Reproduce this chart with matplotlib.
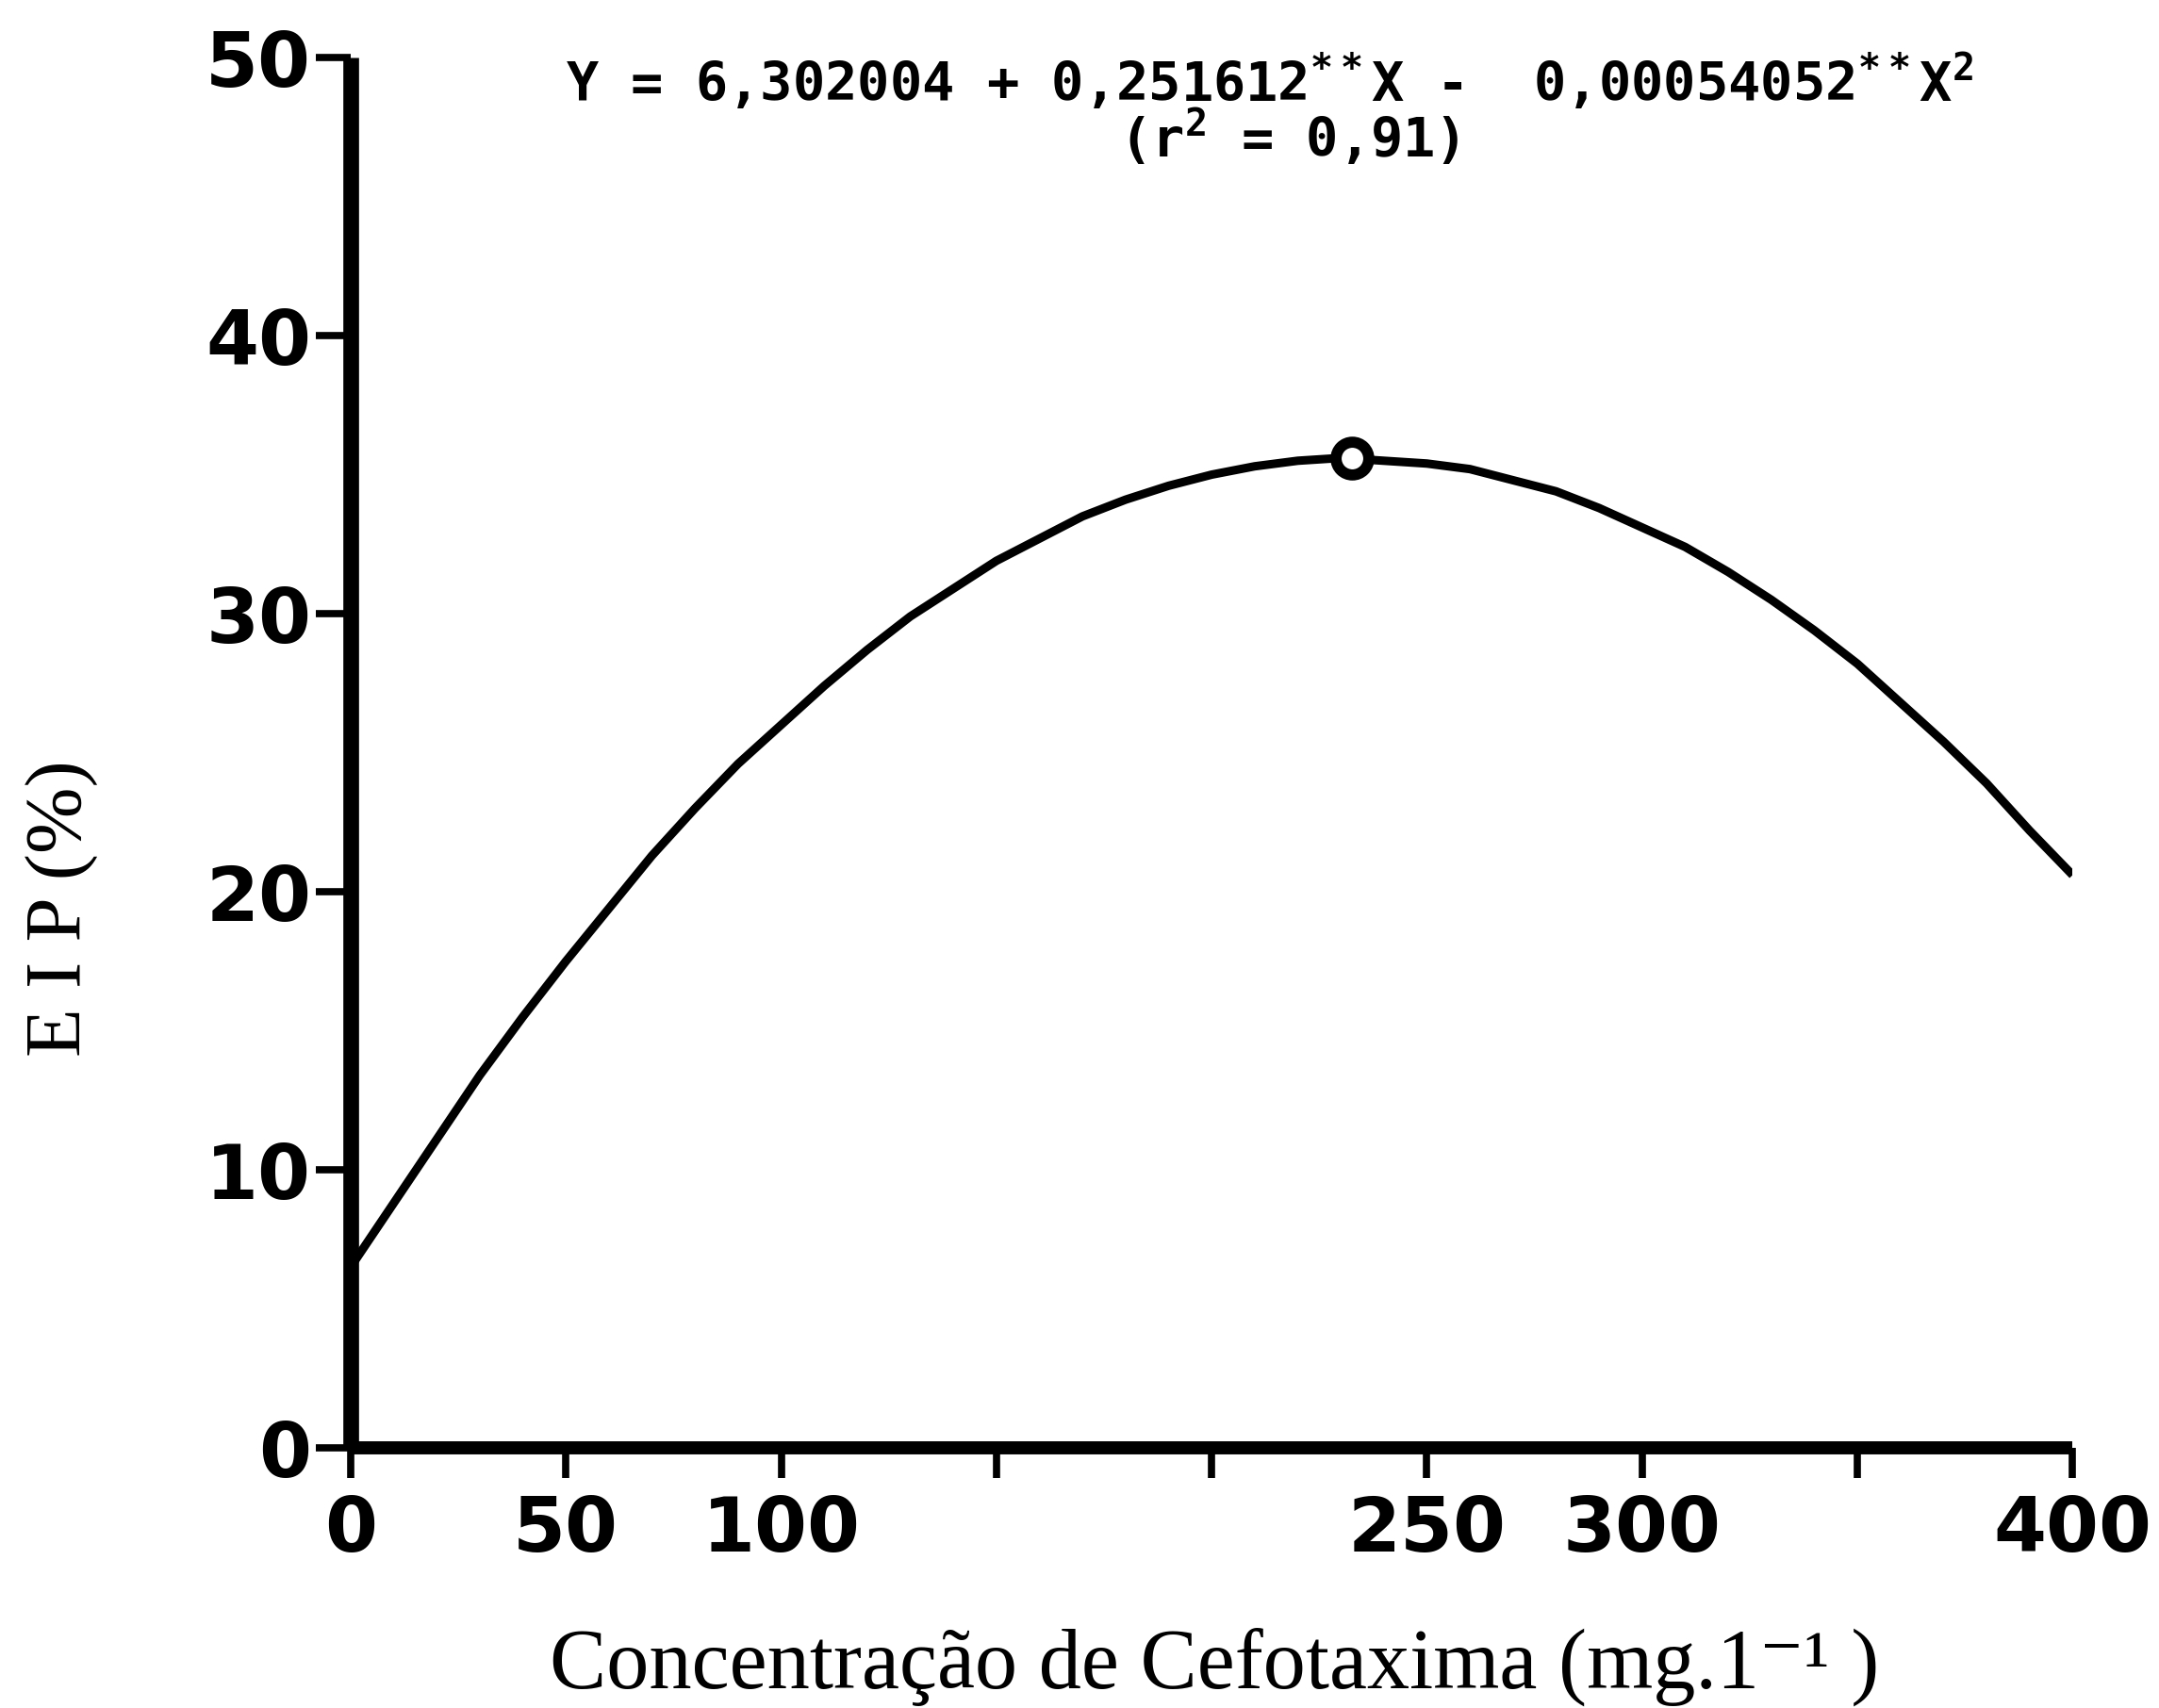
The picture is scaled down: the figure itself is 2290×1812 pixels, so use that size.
import matplotlib
matplotlib.use("Agg")
import matplotlib.pyplot as plt

# ---- data ----
conc = [0, 10, 20, 30, 40, 50, 60, 70, 80, 90, 100, 110, 120, 130, 140, 150, 160, 170, 180, 190, 200,
        210, 220, 230, 240, 250, 260, 270, 280, 290, 300, 310, 320, 330, 340, 350, 360, 370, 380, 390, 400]
eip = [6.5, 8.8, 11.1, 13.4, 15.5, 17.5, 19.4, 21.3, 23.0, 24.6, 26.0, 27.4, 28.7, 29.9, 30.9, 31.9, 32.7, 33.5, 34.1, 34.6, 35.0,
       35.3, 35.5, 35.6, 35.5, 35.4, 35.2, 34.8, 34.4, 33.8, 33.1, 32.4, 31.5, 30.5, 29.4, 28.2, 26.8, 25.4, 23.9, 22.2, 20.6]
peak_x = [232.7]
peak_y = [35.6]
xticks = [0, 50, 100, 150, 200, 250, 300, 350, 400]
xticklabels = ["0", "50", "100", "", "", "250", "300", "", "400"]
yticks = [0, 10, 20, 30, 40, 50]
yticklabels = ["0", "10", "20", "30", "40", "50"]
eq_line1 = "Y = 6,302004 + 0,251612$^{**}$X -  0,00054052$^{**}$X$^{2}$"
eq_line2 = "(r$^{2}$ = 0,91)"
xlabel = "Concentração de Cefotaxima (mg.1\u207b\u00b9 )"
ylabel = "E I P (%)"

plt.rcParams['mathtext.fontset'] = 'custom'
plt.rcParams['mathtext.rm'] = 'DejaVu Sans Mono:bold'
plt.rcParams['mathtext.default'] = 'rm'

fig = plt.figure(figsize=(22.9, 18.12), dpi=100)
ax = fig.add_axes([0.1624, 0.1523, 0.7976, 0.814])

ax.plot(conc, eip, color="black", lw=6.5, solid_capstyle="butt", solid_joinstyle="round", zorder=3)
ax.plot(peak_x, peak_y, "o", ms=25, mfc="white", mec="black", mew=8.5, zorder=4)

ax.set_xlim(0, 400)
ax.set_ylim(0, 50)
for s in ["top", "right"]:
    ax.spines[s].set_visible(False)
ax.spines["left"].set_linewidth(12)
ax.spines["bottom"].set_linewidth(10)
ax.spines["left"].set_capstyle("butt")
ax.spines["bottom"].set_capstyle("butt")

ax.set_xticks(xticks)
ax.set_xticklabels(xticklabels)
ax.set_yticks(yticks)
ax.set_yticklabels(yticklabels)
ax.tick_params(axis="x", direction="out", length=23, width=5.5, pad=12)
ax.tick_params(axis="y", direction="out", length=27, width=5.5, pad=3)
for lab in ax.get_xticklabels() + ax.get_yticklabels():
    lab.set_fontfamily("DejaVu Sans")
    lab.set_fontweight("bold")
    lab.set_fontsize(58)

ax.text(213.4, 49.1, eq_line1, ha="center", va="center", fontsize=41,
        family="DejaVu Sans Mono", fontweight="bold")
ax.text(218, 47.1, eq_line2, ha="center", va="center", fontsize=41,
        family="DejaVu Sans Mono", fontweight="bold")

fig.text(0.0288, 0.468, ylabel, rotation=90, ha="center", va="center",
         fontsize=61, family=["Liberation Serif", "DejaVu Serif"])
fig.text(0.5625, 0.012, xlabel, ha="center", va="baseline",
         fontsize=65, family=["Liberation Serif", "DejaVu Serif"])

fig.savefig("out.png", dpi=100)
